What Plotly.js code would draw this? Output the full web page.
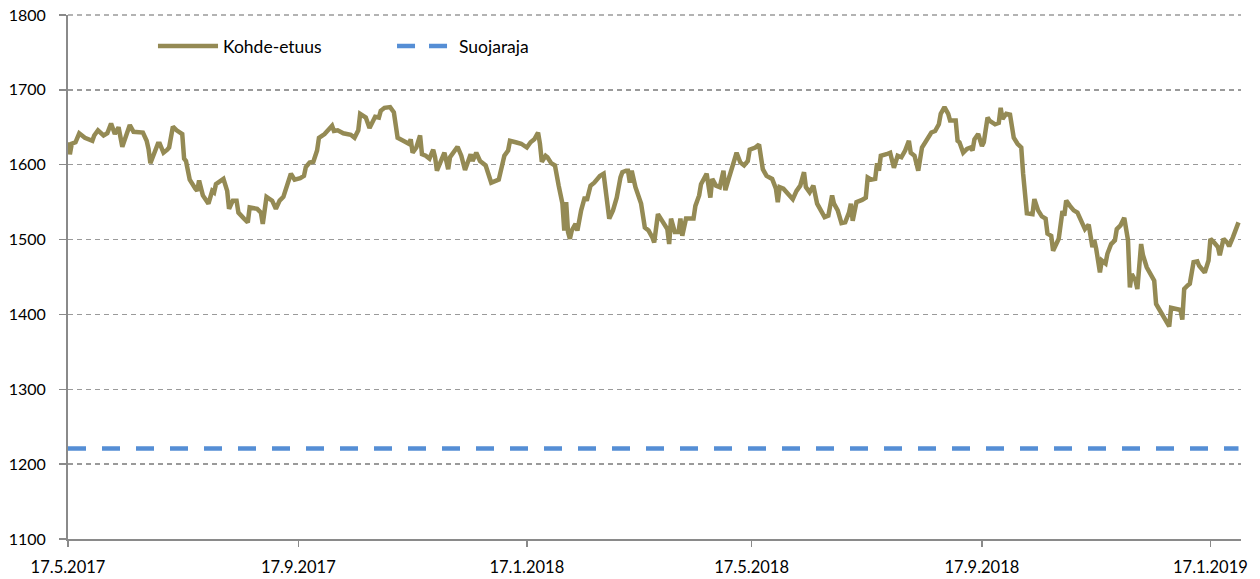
<!DOCTYPE html>
<html>
<head>
<meta charset="utf-8">
<script src="https://cdn.plot.ly/plotly-3.0.1.min.js"></script>
<style>
  html, body { margin: 0; padding: 0; background: #ffffff; }
  #chart { width: 1260px; height: 579px; }
</style>
</head>
<body>
<div id="chart"></div>
<script>
// ---- Data ----
const seriesNames = ['Kohde-etuus', 'Suojaraja'];

const dates2017 = ['2017-05-17','2017-05-18','2017-05-19','2017-05-21','2017-05-23','2017-05-26','2017-05-30','2017-05-31',
'2017-06-02','2017-06-05','2017-06-07','2017-06-09','2017-06-11','2017-06-13','2017-06-15','2017-06-17','2017-06-19','2017-06-21','2017-06-23','2017-06-26','2017-06-28','2017-06-29','2017-06-30',
'2017-07-02','2017-07-04','2017-07-05','2017-07-07','2017-07-09','2017-07-10','2017-07-12','2017-07-14','2017-07-17','2017-07-18','2017-07-19','2017-07-21','2017-07-24','2017-07-25','2017-07-26','2017-07-28','2017-07-31',
'2017-08-02','2017-08-03','2017-08-04','2017-08-08','2017-08-10','2017-08-11','2017-08-13','2017-08-15','2017-08-16','2017-08-19','2017-08-21','2017-08-22','2017-08-26','2017-08-28','2017-08-29','2017-08-31',
'2017-09-03','2017-09-05','2017-09-07','2017-09-09','2017-09-12','2017-09-13','2017-09-15','2017-09-18','2017-09-20','2017-09-21','2017-09-23','2017-09-25','2017-09-27','2017-09-28',
'2017-10-01','2017-10-03','2017-10-05','2017-10-06','2017-10-08','2017-10-11','2017-10-15','2017-10-17','2017-10-19','2017-10-20','2017-10-23','2017-10-25','2017-10-27','2017-10-28','2017-10-30','2017-10-31',
'2017-11-02','2017-11-05','2017-11-07','2017-11-08','2017-11-09','2017-11-12','2017-11-15','2017-11-16','2017-11-17','2017-11-19','2017-11-21','2017-11-22','2017-11-24','2017-11-26','2017-11-28','2017-11-29','2017-11-30',
'2017-12-04','2017-12-06','2017-12-07','2017-12-10','2017-12-11','2017-12-13','2017-12-15','2017-12-18','2017-12-19','2017-12-21','2017-12-23','2017-12-26','2017-12-27','2017-12-29'];
const values2017 = [1630,1614,1628,1630,1642,1636,1632,1639,
1646,1639,1642,1655,1641,1650,1624,1641,1653,1644,1644,1643,1632,1621,1602,
1616,1628,1628,1616,1620,1623,1651,1646,1641,1608,1605,1580,1568,1565,1579,1559,1548,
1565,1563,1574,1581,1565,1541,1552,1552,1536,1528,1523,1543,1541,1536,1521,1557,
1552,1541,1552,1557,1579,1588,1580,1582,1585,1597,1603,1604,1619,1636,
1641,1646,1652,1645,1646,1642,1640,1636,1646,1668,1663,1649,1661,1664,1663,1672,
1676,1677,1670,1654,1636,1632,1628,1634,1616,1623,1639,1614,1612,1608,1620,1610,1592,
1616,1594,1610,1619,1624,1612,1593,1614,1605,1616,1605,1599,1592,1576];

const dates2018 = ['2018-01-02','2018-01-04','2018-01-05','2018-01-07','2018-01-08','2018-01-11','2018-01-14','2018-01-17','2018-01-19','2018-01-21','2018-01-23','2018-01-24','2018-01-25','2018-01-27','2018-01-28','2018-01-30',
'2018-02-01','2018-02-03','2018-02-05','2018-02-06','2018-02-07','2018-02-08','2018-02-09','2018-02-10','2018-02-12','2018-02-13','2018-02-15','2018-02-17','2018-02-18','2018-02-20','2018-02-22','2018-02-25','2018-02-27','2018-02-28',
'2018-03-02','2018-03-04','2018-03-06','2018-03-08','2018-03-09','2018-03-11','2018-03-12','2018-03-13','2018-03-14','2018-03-16','2018-03-18','2018-03-19','2018-03-21','2018-03-23','2018-03-25','2018-03-26','2018-03-28','2018-03-31',
'2018-04-02','2018-04-03','2018-04-04','2018-04-06','2018-04-08','2018-04-09','2018-04-10','2018-04-12','2018-04-16','2018-04-17','2018-04-19','2018-04-20','2018-04-23','2018-04-25','2018-04-26','2018-04-28','2018-04-30',
'2018-05-02','2018-05-03','2018-05-05','2018-05-07','2018-05-09','2018-05-11','2018-05-13','2018-05-15','2018-05-16','2018-05-19','2018-05-21','2018-05-23','2018-05-25','2018-05-28','2018-05-30','2018-05-31',
'2018-06-01','2018-06-03','2018-06-06','2018-06-08','2018-06-10','2018-06-12','2018-06-14','2018-06-15','2018-06-17','2018-06-19','2018-06-21','2018-06-23','2018-06-25','2018-06-27','2018-06-29','2018-06-30',
'2018-07-02','2018-07-04','2018-07-06','2018-07-08','2018-07-09','2018-07-10','2018-07-12','2018-07-15','2018-07-17','2018-07-18','2018-07-20','2018-07-22','2018-07-23','2018-07-24','2018-07-25','2018-07-28','2018-07-30',
'2018-08-01','2018-08-03','2018-08-05','2018-08-07','2018-08-09','2018-08-10','2018-08-12','2018-08-14','2018-08-16','2018-08-18','2018-08-21','2018-08-23','2018-08-25','2018-08-26','2018-08-28','2018-08-30','2018-08-31',
'2018-09-03','2018-09-04','2018-09-05','2018-09-07','2018-09-09','2018-09-11','2018-09-12','2018-09-13','2018-09-15','2018-09-17','2018-09-18','2018-09-20','2018-09-21','2018-09-24','2018-09-26','2018-09-27','2018-09-28','2018-09-30',
'2018-10-02','2018-10-04','2018-10-06','2018-10-08','2018-10-09','2018-10-11','2018-10-14','2018-10-15','2018-10-17','2018-10-19','2018-10-21','2018-10-22','2018-10-24','2018-10-25','2018-10-28','2018-10-30','2018-10-31',
'2018-11-01','2018-11-03','2018-11-05','2018-11-07','2018-11-09','2018-11-11','2018-11-13','2018-11-15','2018-11-16','2018-11-17','2018-11-19','2018-11-20','2018-11-22','2018-11-23','2018-11-25','2018-11-27','2018-11-28','2018-11-30',
'2018-12-02','2018-12-04','2018-12-05','2018-12-06','2018-12-08','2018-12-09','2018-12-11','2018-12-12','2018-12-14','2018-12-17','2018-12-18','2018-12-19','2018-12-21','2018-12-24','2018-12-26','2018-12-27','2018-12-30'];
const values2018 = [1580,1601,1612,1619,1632,1630,1628,1623,1630,1634,1643,1628,1604,1612,1610,1602,
1599,1572,1548,1512,1550,1510,1501,1512,1521,1512,1539,1557,1552,1572,1576,1585,1588,1568,
1528,1539,1556,1583,1590,1592,1592,1576,1592,1570,1552,1548,1516,1512,1503,1496,1534,1523,
1514,1494,1528,1510,1510,1528,1505,1528,1528,1545,1559,1574,1588,1556,1581,1572,1570,
1592,1566,1583,1601,1616,1603,1599,1605,1620,1623,1627,1594,1585,1581,1568,1550,
1570,1568,1559,1554,1565,1572,1590,1570,1563,1572,1548,1539,1530,1532,1559,1548,
1539,1522,1523,1536,1548,1525,1550,1553,1556,1583,1580,1581,1602,1592,1612,1614,1616,
1596,1612,1610,1619,1632,1616,1612,1592,1623,1630,1643,1645,1654,1668,1677,1668,1659,
1659,1632,1630,1616,1621,1623,1619,1634,1641,1625,1630,1663,1659,1654,1656,1676,1661,1668,
1667,1636,1628,1623,1588,1535,1534,1554,1539,1531,1528,1508,1505,1485,1501,1538,1532,
1552,1545,1539,1536,1525,1514,1520,1490,1499,1488,1456,1472,1468,1481,1494,1499,1514,1519,
1529,1499,1436,1454,1445,1434,1494,1479,1463,1450,1445,1414,1405,1394,1384,1409,1408];

const dates2019 = ['2019-01-01','2019-01-02','2019-01-03','2019-01-05','2019-01-06','2019-01-08','2019-01-10','2019-01-11','2019-01-14','2019-01-16','2019-01-17','2019-01-19','2019-01-21','2019-01-22','2019-01-24','2019-01-26','2019-01-27','2019-01-29','2019-02-01'];
const values2019 = [1406,1393,1434,1439,1441,1470,1471,1465,1456,1472,1501,1496,1490,1479,1501,1496,1491,1503,1523];

const suojaDates = ['2017-05-17', '2019-02-01'];
const suojaValues = [1221, 1221];

const xTickVals = ['2017-05-17','2017-09-17','2018-01-17','2018-05-17','2018-09-17','2019-01-17'];
const xTickText = ['17.5.2017','17.9.2017','17.1.2018','17.5.2018','17.9.2018','17.1.2019'];
const yTickVals = [1100,1200,1300,1400,1500,1600,1700,1800];

// ---- Build chart ----
const kohdeDates = dates2017.concat(dates2018, dates2019);
const kohdeValues = values2017.concat(values2018, values2019);

const OLIVE = '#948A54';
const BLUE = '#558ED5';
const GRID = '#9a9a9a';
const FONT = 'Lato, "Open Sans", sans-serif';

const traces = [
  { x: suojaDates, y: suojaValues, type: 'scatter', mode: 'lines', name: seriesNames[1],
    line: { color: BLUE, width: 4.5, dash: '18px,16px' }, hoverinfo: 'skip' },
  { x: kohdeDates, y: kohdeValues, type: 'scatter', mode: 'lines', name: seriesNames[0],
    line: { color: OLIVE, width: 4.5, shape: 'linear' }, hoverinfo: 'skip' }
];

// custom legend (paper coordinates)
const legY = 0.9408;
const layout = {
  width: 1260, height: 579,
  margin: { l: 68, r: 19, t: 15, b: 40, pad: 0 },
  paper_bgcolor: '#ffffff', plot_bgcolor: '#ffffff',
  showlegend: false,
  font: { family: FONT, size: 16, color: '#000000' },
  xaxis: {
    type: 'date',
    range: ['2017-05-17', '2019-02-02 08:00'],
    tickmode: 'array', tickvals: xTickVals, ticktext: xTickText,
    ticks: 'outside', ticklen: 6, tickwidth: 1.5, tickcolor: '#8a8a8a',
    showline: true, linecolor: '#8a8a8a', linewidth: 2,
    showgrid: false, zeroline: false,
    tickfont: { family: FONT, size: 16.5, color: '#000000' },
    ticklabelstandoff: 6
  },
  yaxis: {
    range: [1100, 1800],
    tickmode: 'array', tickvals: yTickVals,
    ticks: 'outside', ticklen: 7, tickwidth: 1.5, tickcolor: '#8a8a8a',
    showline: true, linecolor: '#8a8a8a', linewidth: 2,
    showgrid: true, gridcolor: GRID, gridwidth: 1.3, griddash: '5px,4px',
    zeroline: false,
    tickfont: { family: FONT, size: 16, color: '#000000' },
    ticklabelstandoff: 10
  },
  shapes: [
    // top gridline at the upper end of the value axis (Plotly omits the edge gridline)
    { type: 'line', xref: 'paper', yref: 'paper', x0: 0, x1: 1, y0: 1, y1: 1, layer: 'below',
      line: { color: GRID, width: 1.3, dash: '5px,4px' } },
    { type: 'line', xref: 'paper', yref: 'paper', x0: 0.0767, x1: 0.1279, y0: legY, y1: legY,
      line: { color: OLIVE, width: 4.5 } },
    { type: 'line', xref: 'paper', yref: 'paper', x0: 0.2805, x1: 0.3274, y0: legY, y1: legY,
      line: { color: BLUE, width: 4.5, dash: '18px,14px' } }
  ],
  annotations: [
    { xref: 'paper', yref: 'paper', x: 0.1304, y: legY, xanchor: 'left', yanchor: 'middle',
      text: seriesNames[0], showarrow: false, font: { family: FONT, size: 17.5, color: '#000000' } },
    { xref: 'paper', yref: 'paper', x: 0.3316, y: legY, xanchor: 'left', yanchor: 'middle',
      text: seriesNames[1], showarrow: false, font: { family: FONT, size: 17.5, color: '#000000' } }
  ]
};

Plotly.newPlot('chart', traces, layout, { displayModeBar: false, staticPlot: true });
</script>
</body>
</html>
